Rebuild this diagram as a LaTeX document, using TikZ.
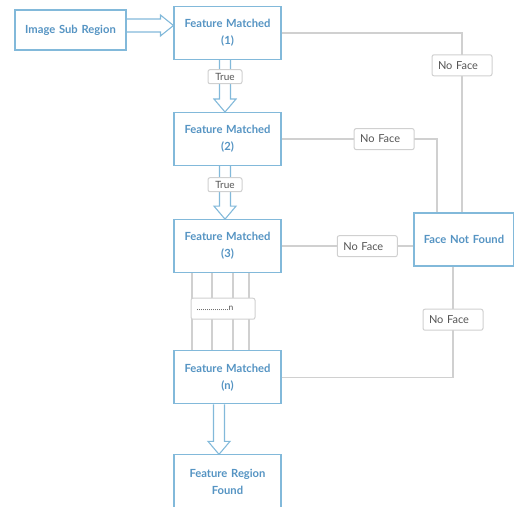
\documentclass[tikz,border=0pt]{standalone}
\usepackage{fontspec}
\setmainfont{Lato}
\usetikzlibrary{positioning,calc}
\definecolor{BoxBlue}{RGB}{130,185,218}
\definecolor{TextBlue}{RGB}{85,148,195}
\definecolor{LineGray}{RGB}{208,208,208}
\definecolor{TagText}{RGB}{85,85,85}
\tikzset{
  stepbox/.style={draw=BoxBlue,fill=white,line width=1.1pt,inner xsep=3.5pt,
    minimum height=53pt,text width=100pt,align=center,text=TextBlue,
    font=\fontsize{11.2}{17}\selectfont\bfseries},
  tag/.style={draw=LineGray,rounded corners=2pt,fill=white,line width=1pt,
    minimum height=21pt,inner xsep=6pt,text width=48pt,align=left,text=TagText,
    font=\fontsize{11}{12}\selectfont},
  truetag/.style={tag,minimum height=14pt,inner xsep=3pt,text width=28pt,
    align=center,font=\fontsize{10}{10}\selectfont},
  link/.style={draw=LineGray,line width=1.4pt},
  hollow/.style={draw=BoxBlue,line width=1.1pt}
}
% open block arrow going down from #1 to #2, moved sideways by #3
\newcommand{\hollowdown}[3]{%
  \draw[hollow] ($(#1.south)+(#3-5.5,0)$) -- ($(#1.south |- #2.north)+(#3-5.5,13)$)
    -- ($(#1.south |- #2.north)+(#3-11,13)$) -- ($(#1.south |- #2.north)+(#3,0)$)
    -- ($(#1.south |- #2.north)+(#3+11,13)$) -- ($(#1.south |- #2.north)+(#3+5.5,13)$)
    -- ($(#1.south)+(#3+5.5,0)$);}

\begin{document}
\begin{tikzpicture}[x=1pt,y=1pt]
  \useasboundingbox (0,0) rectangle (514,506);
  \node[stepbox] (fm1) at (227.5,473) {Feature Matched\\(1)};
  \node[stepbox,below=52pt of fm1] (fm2) {Feature Matched\\(2)};
  \node[stepbox,below=53pt of fm2] (fm3) {Feature Matched\\(3)};
  \node[stepbox,below=77pt of fm3] (fmn) {Feature Matched\\(n)};
  \node[stepbox,below=50pt of fmn] (frf) {Feature Region\\Found};
  \node[stepbox,text width=104pt,minimum height=40pt] (isr) at (70.5,476) {Image Sub Region};
  \node[stepbox,text width=93pt] (fnf) at (464,266.5) {Face Not Found};
  % no face branches
  \draw[link] (fm1.east) -| node[tag,pos=0.59] (nf1) {No Face} ([xshift=-2pt]fnf.north);
  \draw[link] (fm2.east) -| node[tag,pos=0.33] (nf2) {No Face} ([xshift=-27pt]fnf.north);
  \draw[link] (fm3.east) -- node[tag,pos=0.65] (nf3) {No Face} (fm3.east -| fnf.west);
  \draw[link] (fmn.east) -| node[tag,pos=0.76] (nf4) {No Face} ([xshift=-11pt]fnf.south);
  % repeated matches
  \foreach \dx in {-35.5,-15.5,5.5,21.5}
    \draw[link] ($(fm3.south)+(\dx,0)$) -- ($(fm3.south |- fmn.north)+(\dx,0)$);
  \node[tag,minimum width=64pt,text width=53pt,inner xsep=5pt,font=\fontsize{8.5}{10}\selectfont]
    (dots) at ($(fm3.south)!0.5!(fmn.north)+(-4.5,3)$) {................n};
  % block arrows
  \draw[hollow] ($(isr.east)+(0,11)$) -- ($(isr.east -| fm1.west)+(-13,11)$)
    -- ($(isr.east -| fm1.west)+(-13,15)$) -- ($(isr.east -| fm1.west)+(0,4.5)$)
    -- ($(isr.east -| fm1.west)+(-13,-6)$) -- ($(isr.east -| fm1.west)+(-13,-2)$)
    -- ($(isr.east)+(0,-2)$);
  \hollowdown{fm1}{fm2}{-2.5}
  \hollowdown{fm2}{fm3}{-2.5}
  \hollowdown{fmn}{frf}{-8.5}
  \node[truetag] (t1) at ($(fm1.south)!0.32!(fm2.north)+(-2.5,0)$) {True};
  \node[truetag] (t2) at ($(fm2.south)!0.35!(fm3.north)+(-2.5,0)$) {True};
\end{tikzpicture}
\end{document}
